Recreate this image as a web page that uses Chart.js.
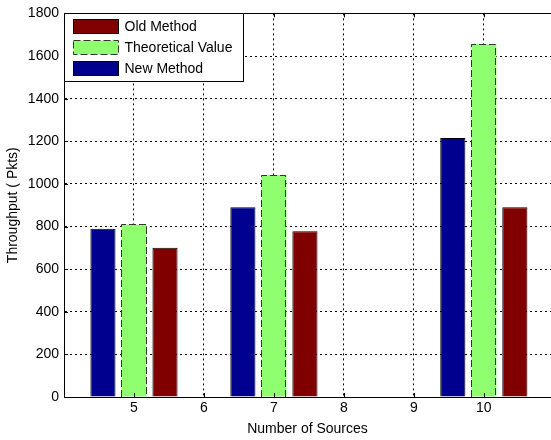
<!DOCTYPE html>
<html>
<head>
<meta charset="utf-8">
<script src="https://cdn.jsdelivr.net/npm/chart.js@4/dist/chart.umd.min.js"></script>
<style>
  html, body { margin: 0; padding: 0; background: #fff; overflow: hidden; }
  #wrap { width: 551px; height: 440px; position: relative; }
  #c { display: block; }
</style>
</head>
<body>
<div id="wrap"><canvas id="c" width="551" height="440"></canvas></div>
<script>
// -------------------------------
// DATA
// -------------------------------
const sources = [5, 7, 10];
const newMethod = [790, 890, 1215];
const theoretical = [810, 1042, 1656];
const oldMethod = [700, 778, 890];
const yTicks = [0, 200, 400, 600, 800, 1000, 1200, 1400, 1600, 1800];
const xTicks = [5, 6, 7, 8, 9, 10];

const BLUE = "#00008F";
const GREEN = "#8FFF70";
const RED = "#800000";

const pts = arr => sources.map((s, i) => ({ x: s, y: arr[i] }));

Chart.defaults.font.family = "'Liberation Sans', Arial, sans-serif";
Chart.defaults.font.size = 14;
Chart.defaults.color = "#000";

// -------------------------------
// Extras: top border, inner ticks, dashed edges, boxed legend
// -------------------------------
const matlabLook = {
  id: "matlabLook",
  afterDatasetsDraw(chart) {
    const ctx = chart.ctx;
    const meta = chart.getDatasetMeta(1);
    ctx.save();
    ctx.strokeStyle = "#333";
    ctx.lineWidth = 1;
    ctx.setLineDash([7, 3]);
    meta.data.forEach(el => {
      const l = Math.round(el.x - el.width / 2) + 0.5;
      const r = Math.round(el.x + el.width / 2) - 0.5;
      const t = Math.round(el.y) + 0.5;
      const b = Math.round(el.base);
      ctx.beginPath();
      ctx.moveTo(l, b);
      ctx.lineTo(l, t);
      ctx.lineTo(r, t);
      ctx.lineTo(r, b);
      ctx.stroke();
    });
    ctx.restore();
  },
  afterDraw(chart) {
    const ctx = chart.ctx;
    const a = chart.chartArea;
    const xs = chart.scales.x, ys = chart.scales.y;
    ctx.save();
    ctx.strokeStyle = "#000";
    ctx.lineWidth = 1;
    ctx.setLineDash([]);
    // top border (right side of the box is cut off in the figure)
    ctx.beginPath();
    ctx.moveTo(a.left, Math.round(a.top) + 0.5);
    ctx.lineTo(a.right, Math.round(a.top) + 0.5);
    ctx.stroke();
    // inner tick marks
    ctx.beginPath();
    xTicks.forEach(v => {
      const px = Math.round(xs.getPixelForValue(v)) + 0.5;
      ctx.moveTo(px, a.bottom); ctx.lineTo(px, a.bottom - 4);
      ctx.moveTo(px, a.top); ctx.lineTo(px, a.top + 4);
    });
    yTicks.forEach(v => {
      const py = Math.round(ys.getPixelForValue(v)) + 0.5;
      ctx.moveTo(a.left, py); ctx.lineTo(a.left + 4, py);
    });
    ctx.stroke();

    // legend box (reverse order, like the figure)
    const bx = Math.round(a.left) + 0.5, by = Math.round(a.top) + 0.5;
    const bw = 179, bh = 68;
    ctx.fillStyle = "#fff";
    ctx.fillRect(bx, by, bw, bh);
    ctx.strokeRect(bx, by, bw, bh);
    const items = chart.data.datasets.slice().reverse();
    ctx.font = "14px 'Liberation Sans', Arial, sans-serif";
    ctx.textBaseline = "middle";
    items.forEach((ds, i) => {
      const cy = by + 13 + i * 21;
      const sx = bx + 9, sy = cy - 7;
      ctx.fillStyle = ds.backgroundColor;
      ctx.fillRect(sx, sy, 45, 14);
      ctx.strokeStyle = ds.label === "Theoretical Value" ? "#333" : "#000";
      ctx.setLineDash(ds.label === "Theoretical Value" ? [7, 3] : []);
      ctx.strokeRect(sx, sy, 45, 14);
      ctx.setLineDash([]);
      ctx.fillStyle = "#000";
      ctx.fillText(ds.label, bx + 60, cy + 1);
    });
    ctx.restore();
  }
};

new Chart(document.getElementById("c").getContext("2d"), {
  type: "bar",
  data: {
    datasets: [
      { label: "New Method", data: pts(newMethod), backgroundColor: BLUE, borderColor: "#000", borderWidth: 1 },
      { label: "Theoretical Value", data: pts(theoretical), backgroundColor: GREEN, borderWidth: 0 },
      { label: "Old Method", data: pts(oldMethod), backgroundColor: RED, borderColor: "#000", borderWidth: 1 }
    ]
  },
  options: {
    responsive: false,
    animation: false,
    // ruler uses the 1-unit tick spacing, so the group spans ~1.33 of it
    categoryPercentage: 1.33,
    barPercentage: 0.81,
    layout: { padding: { top: 12, right: 0, left: 0, bottom: 0 } },
    plugins: {
      legend: { display: false },
      tooltip: { enabled: false }
    },
    scales: {
      x: {
        type: "linear",
        offset: false,
        min: 4,
        max: 10.96,
        afterFit: s => { s.height = 43; },
        afterBuildTicks: s => { s.ticks = [4, ...xTicks].map(v => ({ value: v })); },
        ticks: {
          padding: 3,
          callback: v => (xTicks.includes(v) ? String(v) : "")
        },
        grid: {
          color: c => (c.tick && xTicks.includes(c.tick.value) ? "#000" : "rgba(0,0,0,0)"),
          drawTicks: false,
          lineWidth: 1,
          offset: false
        },
        border: { color: "#000", width: 1, dash: [2, 3] },
        title: { display: true, text: "Number of Sources", padding: { top: 0, bottom: 2 } }
      },
      y: {
        min: 0,
        max: 1800,
        afterFit: s => { s.width = 64; },
        afterBuildTicks: s => { s.ticks = yTicks.map(v => ({ value: v })); },
        ticks: { padding: 5, callback: v => String(v) },
        grid: { color: "#000", drawTicks: false, lineWidth: 1 },
        border: { color: "#000", width: 1, dash: [2, 3] },
        title: { display: true, text: "Throughput ( Pkts)", padding: { top: 5, bottom: 0 } }
      }
    }
  },
  plugins: [matlabLook]
});
</script>
</body>
</html>
